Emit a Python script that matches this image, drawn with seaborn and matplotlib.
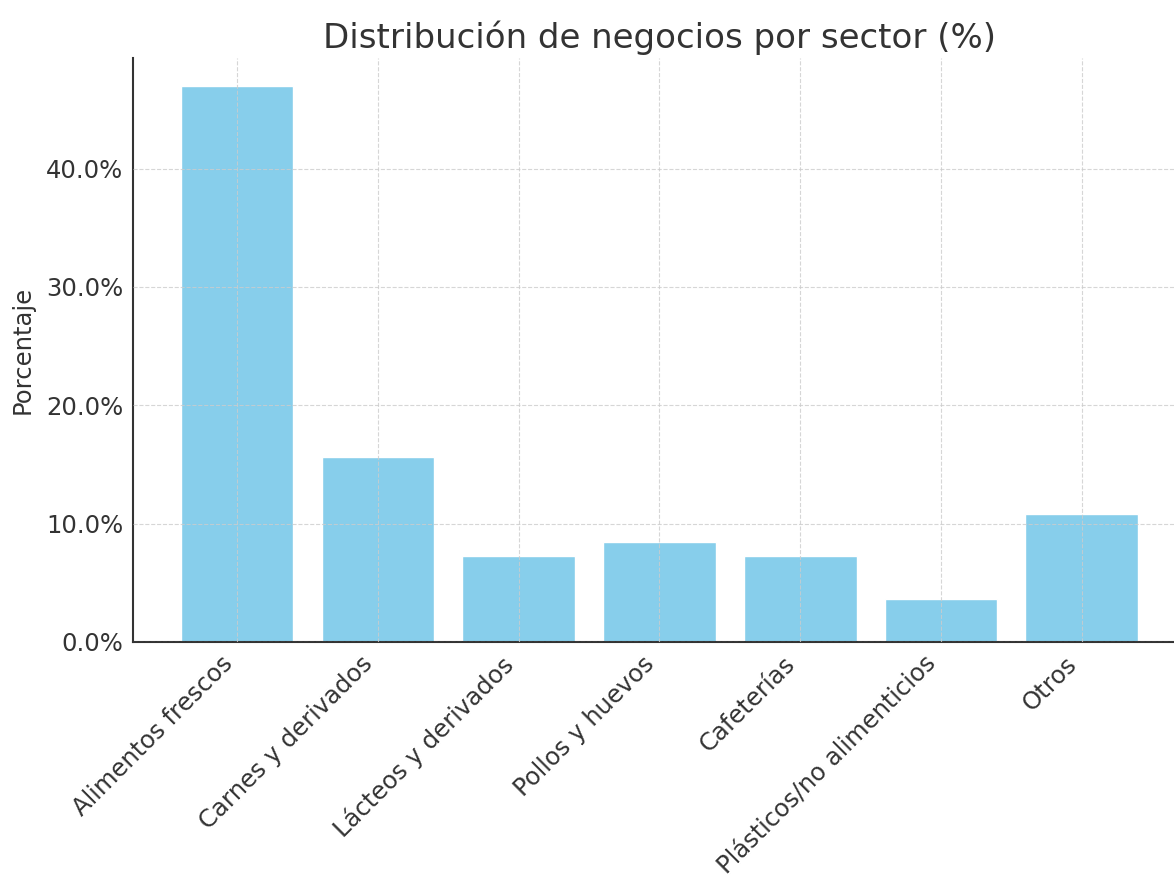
import matplotlib
matplotlib.use("Agg")
import matplotlib.pyplot as plt
import seaborn as sns
import pandas as pd
from matplotlib.ticker import PercentFormatter

sectores = ["Alimentos frescos", "Carnes y derivados", "Lácteos y derivados",
            "Pollos y huevos", "Cafeterías", "Plásticos/no alimenticios", "Otros"]
porcentajes = [47.0, 15.66, 7.23, 8.43, 7.23, 3.61, 10.84]

df = pd.DataFrame({"Sector": sectores, "Porcentaje": porcentajes})

sns.set_style("white")
plt.rcParams['font.family'] = ['DejaVu Sans']

fig = plt.figure(figsize=(11.74, 8.81), dpi=100)
ax = fig.add_axes([0.1133, 0.2713, 0.8969, 0.6629])

sns.barplot(data=df, x="Sector", y="Porcentaje", color="#87CEEB", saturation=1,
            width=0.8, ax=ax)
ax.set_xlim(-0.74, 6.74)
ax.set_ylim(0, 49.35)
ax.set_axisbelow(False)
ax.grid(True, linestyle="--", color="#cccccc", linewidth=0.8, alpha=0.8)
ax.yaxis.set_major_formatter(PercentFormatter(decimals=1))
ax.set_yticks([0, 10, 20, 30, 40])
ax.tick_params(direction="in", length=5, width=1, colors="#333333", labelsize=17.5, pad=7)
ax.set_xticks(range(len(sectores)))
ax.set_xticklabels(sectores, rotation=45, ha="right", fontsize=17.5, color="#333333")
for lbl in ax.get_yticklabels():
    lbl.set_color("#333333")
ax.set_xlabel("")
ax.set_ylabel("Porcentaje", fontsize=17.5, color="#333333", labelpad=8)
ax.set_title("Distribución de negocios por sector (%)", fontsize=24.5, color="#333333", pad=7)
for s in ["top", "right"]:
    ax.spines[s].set_visible(False)
for s in ["left", "bottom"]:
    ax.spines[s].set_color("#333333")
    ax.spines[s].set_linewidth(1.5)

fig.savefig("out.png", dpi=100)
